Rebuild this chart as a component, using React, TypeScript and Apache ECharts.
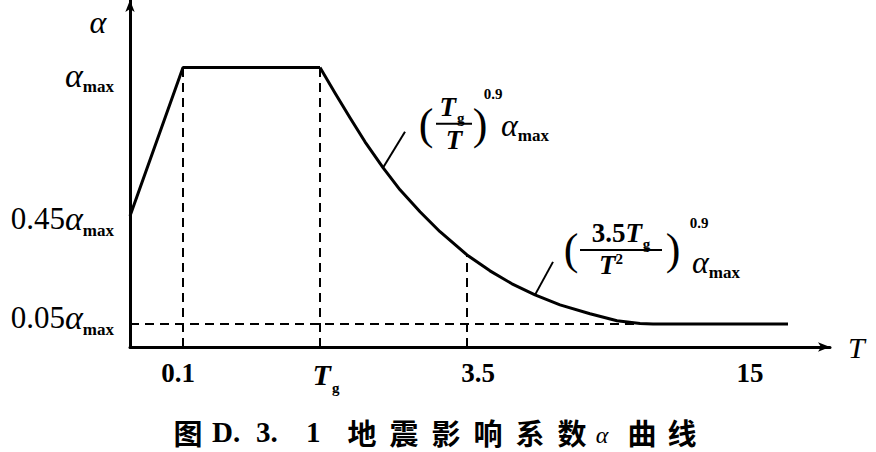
import React, { useEffect, useRef } from "react";
import * as echarts from "echarts";

// Schematic period axis positions (the original figure is not to scale)
const riseX = [0, 53, 190];
const riseY = [0.45, 1, 1];
const decayX = [190, 205, 220, 235, 253, 270, 290, 310, 337, 360, 382, 405, 430, 460, 487, 510, 523, 658];
const decayY = [1, 0.906, 0.814, 0.725, 0.629, 0.547, 0.466, 0.392, 0.306, 0.247, 0.199, 0.158, 0.121, 0.088, 0.062, 0.052, 0.05, 0.05];

const xTickValues = [53, 190, 337];
const xLabelValues = [48, 196, 348, 620];
const xLabelTexts = ["0.1", "Tg", "3.5", "15"];

const yLevels = [0.05, 0.45, 1];
const yLevelTexts = ["0.05", "0.45", ""];

const guideX = [53, 190, 337];
const guideTop = [1, 1, 0.306];
const floorLevel = 0.05;
const floorEnd = 523;

const leader1Anchor = [253, 0.629];
const leader2Anchor = [405, 0.158];

const captionLead = "图";
const captionNumber = ["D.", "3.", "1"];
const captionWords = "地震影响系数";
const captionTail = "曲线";

const SERIF = "'Liberation Serif', 'Times New Roman', serif";
const CJK = "'Noto Sans CJK SC', sans-serif";

const Y_MIN = -0.035;
const Y_MAX = 1.25;

const RICH: any = {
  nb: { fontFamily: SERIF, fontSize: 27, fontWeight: "bold", color: "#000" },
  a: { fontFamily: SERIF, fontSize: 32, fontStyle: "italic", color: "#000", padding: [0, 0, 3, 0] },
  m: { fontFamily: SERIF, fontSize: 17, fontWeight: "bold", color: "#000", verticalAlign: "bottom" },
  t: { fontFamily: SERIF, fontSize: 27, fontStyle: "italic", fontWeight: "bold", color: "#000", padding: [0, 0, 5, 0] },
  tn: { fontFamily: SERIF, fontSize: 27, fontWeight: "bold", color: "#000", padding: [0, 0, 5, 0] },
  s: { fontFamily: SERIF, fontSize: 15, fontWeight: "bold", color: "#000", verticalAlign: "bottom", padding: [0, 0, 0, 1] },
  p: { fontFamily: SERIF, fontSize: 15, fontWeight: "bold", color: "#000", verticalAlign: "top" },
  tx: { fontFamily: SERIF, fontSize: 30, fontStyle: "italic", fontWeight: "bold", color: "#000", padding: [0, 0, 6, 0] },
};

// y-axis label styles; a shift moves a label's glyphs down (+) or up (-)
const yLabelShift = [-5, 4, 9];
const yRich: any = {};
yLabelShift.forEach((d, i) => {
  const top = d > 0 ? 2 * d : 0;
  const bot = d < 0 ? -2 * d : 0;
  yRich["n" + i] = { fontFamily: SERIF, fontSize: 31, color: "#000", padding: [top, 0, bot + 3, 0] };
  yRich["a" + i] = { fontFamily: SERIF, fontSize: 34, fontStyle: "italic", color: "#000", padding: [top, 0, bot + 3, 0] };
  yRich["m" + i] = {
    fontFamily: SERIF,
    fontSize: 17,
    fontWeight: "bold",
    color: "#000",
    verticalAlign: "bottom",
    padding: [0, 0, bot, 0],
  };
});

function txt(x: number, y: number, text: string, size: number, opts: any = {}) {
  return {
    type: "text",
    x,
    y,
    silent: true,
    style: {
      text,
      fontFamily: opts.family || SERIF,
      fontSize: size,
      lineHeight: size,
      fontStyle: opts.italic ? "italic" : "normal",
      fontWeight: opts.bold ? "bold" : "normal",
      fill: "#000",
      align: opts.align || "center",
      verticalAlign: "middle",
    },
  };
}

function rich(x: number, y: number, text: string, align = "center") {
  return {
    type: "text",
    x,
    y,
    silent: true,
    style: { text, rich: RICH, fill: "#000", align, verticalAlign: "middle" },
  };
}

function hline(x1: number, x2: number, y: number, w = 2) {
  return {
    type: "line",
    silent: true,
    shape: { x1, y1: y, x2, y2: y },
    style: { stroke: "#000", lineWidth: w },
  };
}

export default function App() {
  const ref = useRef<HTMLDivElement>(null);

  useEffect(() => {
    document.body.style.margin = "0";
    if (!ref.current) return;
    const chart = echarts.init(ref.current, null, { renderer: "svg" });

    const dashed = (x: number, top: number) => ({
      type: "line",
      data: [
        [x, Y_MIN],
        [x, top],
      ],
      showSymbol: false,
      silent: true,
      lineStyle: { color: "#000", width: 2, type: [9, 6] },
      z: 1,
    });

    const option: any = {
      animation: false,
      backgroundColor: "#fff",
      grid: { left: 130, right: 46, top: 0, bottom: 105 },
      xAxis: {
        type: "value",
        min: 0,
        max: 700,
        name: "T",
        nameLocation: "end",
        nameGap: 18,
        nameTextStyle: {
          fontFamily: SERIF,
          fontStyle: "italic",
          fontSize: 30,
          color: "#000",
          verticalAlign: "middle",
        },
        axisLine: {
          show: true,
          onZero: false,
          symbol: ["none", "arrow"],
          symbolSize: [7, 12],
          lineStyle: { color: "#000", width: 3 },
        },
        axisTick: {
          show: true,
          inside: true,
          length: 9,
          customValues: xTickValues,
          lineStyle: { color: "#000", width: 2 },
        },
        axisLabel: {
          customValues: xLabelValues,
          margin: 12,
          formatter: (v: number) => {
            const i = xLabelValues.indexOf(v);
            const t = i >= 0 ? xLabelTexts[i] : "";
            if (t === "Tg") return "{tx|T}{s|g}";
            return "{nb|" + t + "}";
          },
          rich: RICH,
        },
        splitLine: { show: false },
      },
      yAxis: {
        type: "value",
        min: Y_MIN,
        max: Y_MAX,
        axisLine: {
          show: true,
          symbol: ["none", "arrow"],
          symbolSize: [7, 12],
          lineStyle: { color: "#000", width: 3 },
        },
        axisTick: { show: false },
        axisLabel: {
          customValues: yLevels,
          margin: 16,
          formatter: (v: number) => {
            const i = yLevels.indexOf(v);
            if (i < 0) return "";
            const n = yLevelTexts[i];
            return (n ? "{n" + i + "|" + n + "}" : "") + "{a" + i + "|α}{m" + i + "|max}";
          },
          rich: yRich,
        },
        splitLine: { show: false },
      },
      series: [
        {
          type: "line",
          data: riseX.map((x, i) => [x, riseY[i]]),
          showSymbol: false,
          silent: true,
          lineStyle: { color: "#000", width: 3 },
          z: 3,
        },
        {
          type: "line",
          data: decayX.map((x, i) => [x, decayY[i]]),
          showSymbol: false,
          silent: true,
          lineStyle: { color: "#000", width: 3, join: "round" },
          z: 3,
        },
        ...guideX.map((x, i) => dashed(x, guideTop[i])),
        {
          type: "line",
          data: [
            [0, floorLevel],
            [floorEnd, floorLevel],
          ],
          showSymbol: false,
          silent: true,
          lineStyle: { color: "#000", width: 2, type: [9, 6] },
          z: 1,
        },
      ],
    };

    chart.setOption(option);

    const a1 = chart.convertToPixel({ gridIndex: 0 }, leader1Anchor) as number[];
    const a2 = chart.convertToPixel({ gridIndex: 0 }, leader2Anchor) as number[];
    const o1 = [a1[0] + 22, a1[1] - 36];
    const o2 = [a2[0] + 18, a2[1] - 33];

    const graphic: any[] = [
      // axis name alpha
      txt(98, 22, "α", 32, { italic: true }),
      // leaders
      {
        type: "line",
        silent: true,
        shape: { x1: a1[0], y1: a1[1], x2: o1[0], y2: o1[1] },
        style: { stroke: "#000", lineWidth: 2 },
      },
      {
        type: "line",
        silent: true,
        shape: { x1: a2[0], y1: a2[1], x2: o2[0], y2: o2[1] },
        style: { stroke: "#000", lineWidth: 2 },
      },
      // formula 1
      txt(o1[0] + 21, o1[1] - 7, "(", 44),
      rich(o1[0] + 47, o1[1] - 22, "{t|T}{s|g}"),
      hline(o1[0] + 31, o1[0] + 67, o1[1] - 8),
      txt(o1[0] + 49, o1[1] + 8, "T", 27, { italic: true, bold: true }),
      txt(o1[0] + 75, o1[1] - 7, ")", 44),
      txt(o1[0] + 88, o1[1] - 38, "0.9", 15, { bold: true }),
      rich(o1[0] + 96, o1[1] - 5, "{a|α}{m|max}", "left"),
      // formula 2
      txt(o2[0] + 18, o2[1] - 12, "(", 44),
      rich(o2[0] + 68, o2[1] - 26, "{tn|3.5}{t|T}{s|g}"),
      hline(o2[0] + 27, o2[0] + 109, o2[1] - 12),
      rich(o2[0] + 58, o2[1] + 6, "{t|T}{p|2}"),
      txt(o2[0] + 120, o2[1] - 12, ")", 44),
      txt(o2[0] + 146, o2[1] - 39, "0.9", 15, { bold: true }),
      rich(o2[0] + 139, o2[1] + 2, "{a|α}{m|max}", "left"),
      // caption
      txt(188, 432, captionLead, 29, { family: CJK, bold: true }),
      txt(212, 432, captionNumber[0], 29, { bold: true, align: "left" }),
      txt(256, 432, captionNumber[1], 29, { bold: true, align: "left" }),
      txt(306, 432, captionNumber[2], 29, { bold: true, align: "left" }),
      ...captionWords
        .split("")
        .map((c, i) => txt(362 + i * 42, 432, c, 29, { family: CJK, bold: true })),
      txt(602, 435, "α", 24, { italic: true }),
      ...captionTail
        .split("")
        .map((c, i) => txt(642 + i * 40, 432, c, 29, { family: CJK, bold: true })),
    ];

    chart.setOption({ graphic });

    return () => chart.dispose();
  }, []);

  return <div ref={ref} style={{ width: 876, height: 452 }} />;
}
